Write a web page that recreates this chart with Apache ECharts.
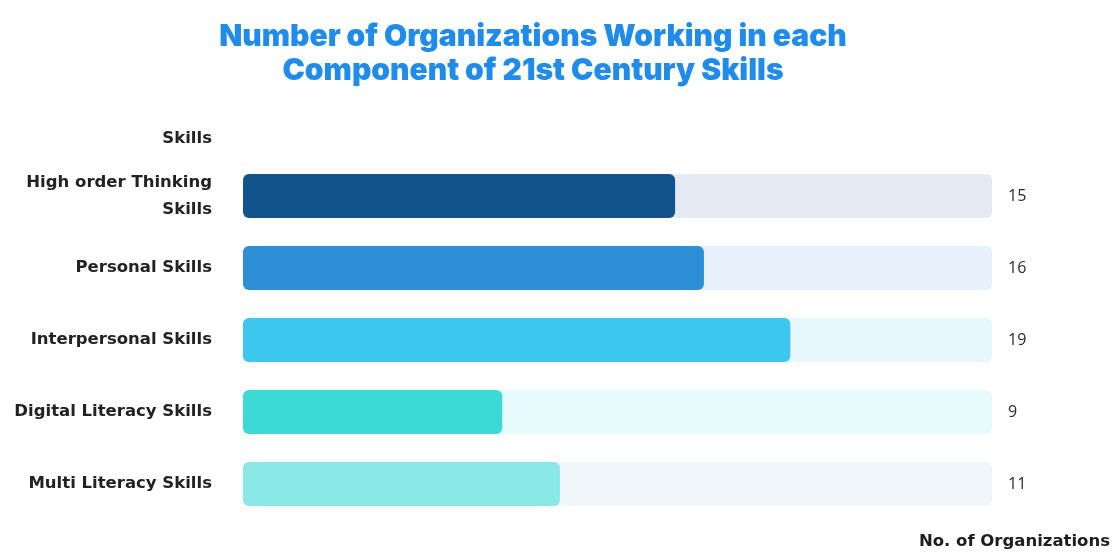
<!DOCTYPE html>
<html>
<head>
<meta charset="utf-8">
<title>21st Century Skills</title>
<script src="https://cdn.jsdelivr.net/npm/echarts@6/dist/echarts.min.js"></script>
<style>
  html, body { margin: 0; padding: 0; background: #ffffff; }
  #chart { width: 1114px; height: 553px; }
</style>
</head>
<body>
<div id="chart"></div>
<script>
// Skill components and how many organizations work in each
const skills = [
  'High order Thinking\nSkills',
  'Personal Skills',
  'Interpersonal Skills',
  'Digital Literacy Skills',
  'Multi Literacy Skills'
];
const organizations = [15, 16, 19, 9, 11];

// Full length of each track behind the bars
const scaleMax = 26;

// Fill and track colours per row
const barColors = ['#13538b', '#2c8fd6', '#3cc8ee', '#3cdad5', '#8ae9e6'];
const trackColors = ['#e4e9f2', '#e8f1fb', '#e6f8fd', '#e8fbfc', '#f0f6fa'];

const chart = echarts.init(document.getElementById('chart'), null, { renderer: 'canvas' });

const titleFont = 'Inter, "Open Sans", sans-serif';
const labelFont = '"DejaVu Sans", Inter, sans-serif';

chart.setOption({
  backgroundColor: '#ffffff',
  animation: false,
  title: {
    text: 'Number of Organizations Working in each\nComponent of 21st Century Skills',
    left: 528,
    textAlign: 'center',
    top: 15,
    textStyle: {
      color: '#1f8bea',
      fontFamily: titleFont,
      fontWeight: 900,
      fontSize: 30,
      lineHeight: 34
    }
  },
  grid: { left: 243, right: 122, top: 160, bottom: 33 },
  xAxis: {
    type: 'value',
    min: 0,
    max: scaleMax,
    axisLine: { show: false },
    axisTick: { show: false },
    axisLabel: { show: false },
    splitLine: { show: false },
    name: 'No. of Organizations',
    nameLocation: 'end',
    nameGap: 118,
    nameTextStyle: {
      align: 'right',
      verticalAlign: 'top',
      padding: [13, 0, 0, 0],
      color: '#1e1e1e',
      fontFamily: labelFont,
      fontWeight: 'bold',
      fontSize: 16.5
    }
  },
  yAxis: {
    type: 'category',
    inverse: true,
    data: skills,
    axisLine: { show: false },
    axisTick: { show: false },
    axisLabel: {
      margin: 31,
      color: '#222222',
      fontFamily: labelFont,
      fontWeight: 'bold',
      fontSize: 16.5,
      lineHeight: 27,
      align: 'right'
    },
    name: 'Skills',
    nameLocation: 'start',
    nameGap: 21,
    nameTextStyle: {
      align: 'right',
      verticalAlign: 'middle',
      padding: [0, 31, 0, 0],
      color: '#222222',
      fontFamily: labelFont,
      fontWeight: 'bold',
      fontSize: 16.5
    }
  },
  series: [
    {
      // Light track spanning the full scale, carrying the value label
      type: 'bar',
      barWidth: 44,
      barGap: '-100%',
      silent: true,
      data: organizations.map((v, i) => ({
        value: scaleMax,
        itemStyle: { color: trackColors[i], borderRadius: 6 }
      })),
      label: {
        show: true,
        position: 'right',
        distance: 16,
        formatter: p => String(organizations[p.dataIndex]),
        color: '#2a2a2a',
        fontFamily: '"Open Sans", Inter, sans-serif',
        fontSize: 16
      },
      z: 1
    },
    {
      type: 'bar',
      barWidth: 44,
      barGap: '-100%',
      data: organizations.map((v, i) => ({
        value: v,
        itemStyle: { color: barColors[i], borderRadius: 6 }
      })),
      z: 2
    }
  ]
});
</script>
</body>
</html>
